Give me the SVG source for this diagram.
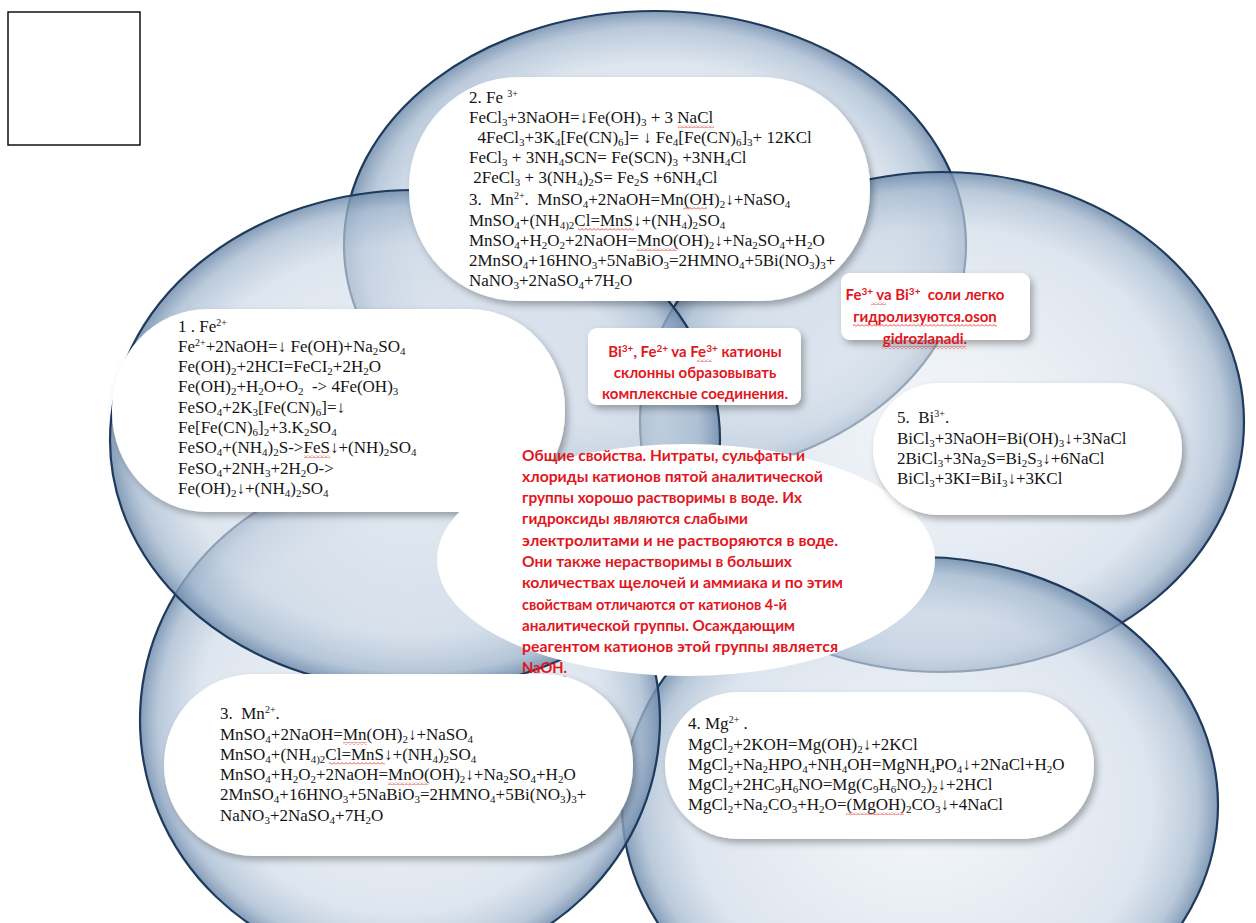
<svg xmlns="http://www.w3.org/2000/svg" width="1256" height="923" viewBox="0 0 1256 923">
<defs>
<radialGradient id="cg" cx="50%" cy="50%" r="50%">
<stop offset="0%" stop-color="#eef3f8" stop-opacity="0.6"/>
<stop offset="78%" stop-color="#cbd7e5" stop-opacity="0.65"/>
<stop offset="93%" stop-color="#a3b8cf" stop-opacity="0.75"/>
<stop offset="100%" stop-color="#6f8bab" stop-opacity="0.85"/>
</radialGradient>
<filter id="sh" x="-10%" y="-10%" width="125%" height="130%">
<feDropShadow dx="3" dy="4" stdDeviation="3.5" flood-color="#000" flood-opacity="0.3"/>
</filter>
<pattern id="sq" width="4" height="3" patternUnits="userSpaceOnUse">
<path d="M0,2.5 L2,0.5 L4,2.5" fill="none" stroke="#e0201c" stroke-width="0.8"/>
</pattern>
<style>
.circ{fill:url(#cg);stroke:#1e3a5c;stroke-width:2.2}
.box{fill:#fff;filter:url(#sh)}
.chem{font-family:"Liberation Serif","Times New Roman",serif;font-size:17px;fill:#141414}
.s{font-size:11px;baseline-shift:-3px}
.p{font-size:10px;baseline-shift:6px}
.red{font-family:Lato,"Open Sans",sans-serif;font-weight:700;font-size:15px;fill:#e3161d}
.rp{font-size:10px;baseline-shift:5px}
.sq{fill:url(#sq)}
</style>
</defs>
<rect width="1256" height="923" fill="#fff"/>
<rect id="corner-box" x="8" y="12" width="132" height="133" fill="#fff" stroke="#111" stroke-width="1.5"/>

<g id="circles">
<ellipse id="c-top" class="circ" cx="655" cy="245" rx="311" ry="234"/>
<ellipse id="c-right" class="circ" cx="942" cy="422" rx="302" ry="250"/>
<ellipse id="c-bottom-right" class="circ" cx="920" cy="805" rx="298" ry="248"/>
<ellipse id="c-bottom-left" class="circ" cx="400" cy="720" rx="260" ry="250"/>
<ellipse id="c-left" class="circ" cx="415" cy="440" rx="305" ry="250"/>
</g>

<g id="box-fe3">
<rect class="box" x="409" y="77" width="461" height="224" rx="110" ry="110"/>
<g class="chem">
<text x="469" y="103">2. Fe <tspan class="p">3+</tspan></text>
<text x="469" y="123">FeCl<tspan class="s">3</tspan>+3NaOH=↓Fe(OH)<tspan class="s">3</tspan> + 3 NaCl</text>
<text x="469" y="143">&#160;&#160;4FeCl<tspan class="s">3</tspan>+3K<tspan class="s">4</tspan>[Fe(CN)<tspan class="s">6</tspan>]= ↓ Fe<tspan class="s">4</tspan>[Fe(CN)<tspan class="s">6</tspan>]<tspan class="s">3</tspan>+ 12KCl</text>
<text x="469" y="163">FeCl<tspan class="s">3</tspan> + 3NH<tspan class="s">4</tspan>SCN= Fe(SCN)<tspan class="s">3</tspan> +3NH<tspan class="s">4</tspan>Cl</text>
<text x="469" y="183">&#160;2FeCl<tspan class="s">3</tspan> + 3(NH<tspan class="s">4</tspan>)<tspan class="s">2</tspan>S= Fe<tspan class="s">2</tspan>S +6NH<tspan class="s">4</tspan>Cl</text>
<text x="469" y="205">3.&#160; Mn<tspan class="p">2+</tspan>.&#160; MnSO<tspan class="s">4</tspan>+2NaOH=Mn(OH)<tspan class="s">2</tspan>↓+NaSO<tspan class="s">4</tspan></text>
<text x="469" y="226">MnSO<tspan class="s">4</tspan>+(NH<tspan class="s">4)2</tspan>Cl=MnS↓+(NH<tspan class="s">4</tspan>)<tspan class="s">2</tspan>SO<tspan class="s">4</tspan></text>
<text x="469" y="246">MnSO<tspan class="s">4</tspan>+H<tspan class="s">2</tspan>O<tspan class="s">2</tspan>+2NaOH=MnO(OH)<tspan class="s">2</tspan>↓+Na<tspan class="s">2</tspan>SO<tspan class="s">4</tspan>+H<tspan class="s">2</tspan>O</text>
<text x="469" y="266">2MnSO<tspan class="s">4</tspan>+16HNO<tspan class="s">3</tspan>+5NaBiO<tspan class="s">3</tspan>=2HMNO<tspan class="s">4</tspan>+5Bi(NO<tspan class="s">3</tspan>)<tspan class="s">3</tspan>+</text>
<text x="469" y="286">NaNO<tspan class="s">3</tspan>+2NaSO<tspan class="s">4</tspan>+7H<tspan class="s">2</tspan>O</text>
</g>
<rect class="sq" x="678" y="125" width="36" height="3"/>
<rect class="sq" x="683" y="207" width="24" height="3"/>
<rect class="sq" x="578" y="228" width="56" height="3"/>
<rect class="sq" x="637" y="248" width="40" height="3"/>
</g>

<g id="box-fe2">
<rect class="box" x="112" y="309" width="453" height="203" rx="95" ry="100"/>
<g class="chem">
<text x="178" y="332">1 . Fe<tspan class="p">2+</tspan></text>
<text x="178" y="352">Fe<tspan class="p">2+</tspan>+2NaOH=↓ Fe(OH)+Na<tspan class="s">2</tspan>SO<tspan class="s">4</tspan></text>
<text x="178" y="372">Fe(OH)<tspan class="s">2</tspan>+2HCI=FeCI<tspan class="s">2</tspan>+2H<tspan class="s">2</tspan>O</text>
<text x="178" y="392">Fe(OH)<tspan class="s">2</tspan>+H<tspan class="s">2</tspan>O+O<tspan class="s">2</tspan>&#160; -&gt; 4Fe(OH)<tspan class="s">3</tspan></text>
<text x="178" y="413">FeSO<tspan class="s">4</tspan>+2K<tspan class="s">3</tspan>[Fe(CN)<tspan class="s">6</tspan>]=↓</text>
<text x="178" y="433">Fe[Fe(CN)<tspan class="s">6</tspan>]<tspan class="s">2</tspan>+3.K<tspan class="s">2</tspan>SO<tspan class="s">4</tspan></text>
<text x="178" y="453">FeSO<tspan class="s">4</tspan>+(NH<tspan class="s">4</tspan>)<tspan class="s">2</tspan>S-&gt;FeS↓+(NH)<tspan class="s">2</tspan>SO<tspan class="s">4</tspan></text>
<text x="178" y="474">FeSO<tspan class="s">4</tspan>+2NH<tspan class="s">3</tspan>+2H<tspan class="s">2</tspan>O-&gt;</text>
<text x="178" y="494">Fe(OH)<tspan class="s">2</tspan>↓+(NH<tspan class="s">4</tspan>)<tspan class="s">2</tspan>SO<tspan class="s">4</tspan></text>
</g>
<rect class="sq" x="304" y="455" width="26" height="3"/>
</g>

<g id="center">
<ellipse cx="686" cy="560" rx="249" ry="116" fill="#fff"/>
<g class="red">
<text x="522" y="461" textLength="283" lengthAdjust="spacingAndGlyphs">Общие свойства. Нитраты, сульфаты и</text>
<text x="522" y="482" textLength="301" lengthAdjust="spacingAndGlyphs">хлориды катионов пятой аналитической</text>
<text x="522" y="503" textLength="280" lengthAdjust="spacingAndGlyphs">группы хорошо растворимы в воде. Их</text>
<text x="522" y="524" textLength="226" lengthAdjust="spacingAndGlyphs">гидроксиды являются слабыми</text>
<text x="522" y="546" textLength="316" lengthAdjust="spacingAndGlyphs">электролитами и не растворяются в воде.</text>
<text x="522" y="567" textLength="270" lengthAdjust="spacingAndGlyphs">Они также нерастворимы в больших</text>
<text x="522" y="588" textLength="321" lengthAdjust="spacingAndGlyphs">количествах щелочей и аммиака и по этим</text>
<text x="522" y="610" textLength="265" lengthAdjust="spacingAndGlyphs">свойствам отличаются от катионов 4-й</text>
<text x="522" y="631" textLength="273" lengthAdjust="spacingAndGlyphs">аналитической группы. Осаждающим</text>
<text x="522" y="652" textLength="316" lengthAdjust="spacingAndGlyphs">реагентом катионов этой группы является</text>
<text x="522" y="673" textLength="45" lengthAdjust="spacingAndGlyphs">NaOH.</text>
</g>
<rect class="sq" x="522" y="676" width="44" height="3"/>
</g>

<g id="box-bi">
<rect class="box" x="873" y="383" width="309" height="132" rx="66" ry="66"/>
<g class="chem">
<text x="897" y="423">5.&#160; Bi<tspan class="p">3+</tspan>.</text>
<text x="897" y="444">BiCl<tspan class="s">3</tspan>+3NaOH=Bi(OH)<tspan class="s">3</tspan>↓+3NaCl</text>
<text x="897" y="464">2BiCl<tspan class="s">3</tspan>+3Na<tspan class="s">2</tspan>S=Bi<tspan class="s">2</tspan>S<tspan class="s">3</tspan>↓+6NaCl</text>
<text x="897" y="484">BiCl<tspan class="s">3</tspan>+3KI=BiI<tspan class="s">3</tspan>↓+3KCl</text>
</g>
</g>

<g id="box-mn">
<rect class="box" x="164" y="674" width="469" height="182" rx="90" ry="90"/>
<g class="chem">
<text x="220" y="719">3.&#160; Mn<tspan class="p">2+</tspan>.</text>
<text x="220" y="740">MnSO<tspan class="s">4</tspan>+2NaOH=Mn(OH)<tspan class="s">2</tspan>↓+NaSO<tspan class="s">4</tspan></text>
<text x="220" y="760">MnSO<tspan class="s">4</tspan>+(NH<tspan class="s">4)2</tspan>Cl=MnS↓+(NH<tspan class="s">4</tspan>)<tspan class="s">2</tspan>SO<tspan class="s">4</tspan></text>
<text x="220" y="780">MnSO<tspan class="s">4</tspan>+H<tspan class="s">2</tspan>O<tspan class="s">2</tspan>+2NaOH=MnO(OH)<tspan class="s">2</tspan>↓+Na<tspan class="s">2</tspan>SO<tspan class="s">4</tspan>+H<tspan class="s">2</tspan>O</text>
<text x="220" y="800">2MnSO<tspan class="s">4</tspan>+16HNO<tspan class="s">3</tspan>+5NaBiO<tspan class="s">3</tspan>=2HMNO<tspan class="s">4</tspan>+5Bi(NO<tspan class="s">3</tspan>)<tspan class="s">3</tspan>+</text>
<text x="220" y="821">NaNO<tspan class="s">3</tspan>+2NaSO<tspan class="s">4</tspan>+7H<tspan class="s">2</tspan>O</text>
</g>
<rect class="sq" x="343" y="742" width="24" height="3"/>
<rect class="sq" x="329" y="762" width="56" height="3"/>
<rect class="sq" x="388" y="782" width="40" height="3"/>
</g>

<g id="box-mg">
<rect class="box" x="665" y="692" width="429" height="147" rx="73" ry="73"/>
<g class="chem">
<text x="688" y="729">4. Mg<tspan class="p">2+</tspan> .</text>
<text x="688" y="750">MgCl<tspan class="s">2</tspan>+2KOH=Mg(OH)<tspan class="s">2</tspan>↓+2KCl</text>
<text x="688" y="770">MgCl<tspan class="s">2</tspan>+Na<tspan class="s">2</tspan>HPO<tspan class="s">4</tspan>+NH<tspan class="s">4</tspan>OH=MgNH<tspan class="s">4</tspan>PO<tspan class="s">4</tspan>↓+2NaCl+H<tspan class="s">2</tspan>O</text>
<text x="688" y="790">MgCl<tspan class="s">2</tspan>+2HC<tspan class="s">9</tspan>H<tspan class="s">6</tspan>NO=Mg(C<tspan class="s">9</tspan>H<tspan class="s">6</tspan>NO<tspan class="s">2</tspan>)<tspan class="s">2</tspan>↓+2HCl</text>
<text x="688" y="810">MgCl<tspan class="s">2</tspan>+Na<tspan class="s">2</tspan>CO<tspan class="s">3</tspan>+H<tspan class="s">2</tspan>O=(MgOH)<tspan class="s">2</tspan>CO<tspan class="s">3</tspan>↓+4NaCl</text>
</g>
<rect class="sq" x="846" y="812" width="58" height="3"/>
</g>

<g id="note-complex">
<rect class="box" x="588" y="328" width="213" height="77" rx="9" ry="9"/>
<g class="red" text-anchor="middle">
<text x="695" y="357">Bi<tspan class="rp">3+</tspan>, Fe<tspan class="rp">2+</tspan> va Fe<tspan class="rp">3+</tspan> катионы</text>
<text x="695" y="378">склонны образовывать</text>
<text x="695" y="399">комплексные соединения.</text>
</g>
<rect class="sq" x="697" y="359" width="15" height="3"/>
</g>

<g id="note-hydrolysis">
<rect class="box" x="841" y="273" width="189" height="67" rx="9" ry="9"/>
<g class="red" text-anchor="middle">
<text x="925" y="300">Fe<tspan class="rp">3+</tspan> va Bi<tspan class="rp">3+</tspan>&#160; соли легко</text>
<text x="925" y="322">гидролизуются.oson</text>
<text x="925" y="344">gidrozlanadi.</text>
</g>
<rect class="sq" x="871" y="302" width="15" height="3"/>
<rect class="sq" x="853" y="324" width="144" height="3"/>
<rect class="sq" x="882" y="346" width="84" height="3"/>
</g>
</svg>
